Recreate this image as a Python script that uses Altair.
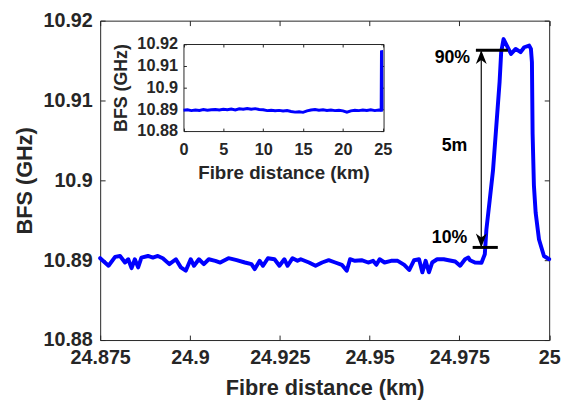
import altair as alt
import pandas as pd

# ---------------- data ----------------
dist_km = [24.87500, 24.87733, 24.87916, 24.88053, 24.88191, 24.88282, 24.88374, 24.88465,
           24.88557, 24.88648, 24.88831, 24.88968, 24.89105, 24.89243, 24.89426, 24.89608,
           24.89746, 24.89883, 24.90020, 24.90112, 24.90249, 24.90386, 24.90523, 24.90706,
           24.90843, 24.91072, 24.91300, 24.91529, 24.91712, 24.91804, 24.91941, 24.92033,
           24.92170, 24.92353, 24.92490, 24.92627, 24.92718, 24.92856, 24.92993, 24.93085,
           24.93313, 24.93496, 24.93679, 24.93862, 24.94045, 24.94228, 24.94365, 24.94457,
           24.94594, 24.94777, 24.94960, 24.95097, 24.95189, 24.95280, 24.95417, 24.95600,
           24.95783, 24.95966, 24.96103, 24.96240, 24.96378, 24.96469, 24.96561, 24.96652,
           24.96743, 24.96881, 24.97064, 24.97201, 24.97384, 24.97521, 24.97658, 24.97750,
           24.97796, 24.97933, 24.98116, 24.98208, 24.98252, 24.98345, 24.98436, 24.98518,
           24.98620, 24.98664, 24.98730, 24.98938, 24.99067, 24.99205, 24.99306, 24.99443,
           24.99492, 24.99520, 24.99539, 24.99575, 24.99624, 24.99717, 24.99855, 25.00000]
bfs_ghz = [10.89025, 10.88930, 10.89041, 10.89053, 10.88971, 10.89012, 10.88901, 10.89012,
           10.88910, 10.89033, 10.89053, 10.89033, 10.89053, 10.89025, 10.88951, 10.89012,
           10.88910, 10.88868, 10.89012, 10.88930, 10.89012, 10.88951, 10.89012, 10.88992,
           10.88971, 10.89025, 10.89000, 10.88971, 10.88951, 10.88889, 10.88992, 10.88930,
           10.89025, 10.89012, 10.88930, 10.89012, 10.88930, 10.89025, 10.88992, 10.89012,
           10.88971, 10.88930, 10.88971, 10.89000, 10.88971, 10.88942, 10.88868, 10.89012,
           10.88992, 10.89000, 10.88971, 10.88992, 10.88942, 10.89012, 10.88971, 10.88992,
           10.88992, 10.88942, 10.88877, 10.89000, 10.89012, 10.88848, 10.88992, 10.88848,
           10.88971, 10.89012, 10.89012, 10.89000, 10.88984, 10.88930, 10.89012, 10.89033,
           10.89000, 10.88971, 10.88967, 10.89074, 10.89383, 10.89753, 10.90123, 10.90617,
           10.91235, 10.91605, 10.91769, 10.91584, 10.91646, 10.91605, 10.91667, 10.91688,
           10.91646, 10.91481, 10.90580, 10.89938, 10.89593, 10.89259, 10.89053, 10.89012]

inset_km = [0, 0.5, 1, 1.5, 2, 2.5, 3, 3.5, 4, 4.5, 5, 5.5, 6, 6.5, 7, 7.5, 8, 8.5, 9, 9.5,
            10, 10.5, 11, 11.5, 12, 12.5, 13, 13.5, 14, 14.5, 15, 15.5, 16, 16.5, 17, 17.5,
            18, 18.5, 19, 19.5, 20, 20.5, 21, 21.5, 22, 22.5, 23, 23.5, 24, 24.5, 24.8,
            24.84, 24.86, 24.9, 25.0]
inset_ghz = [10.8896, 10.8898, 10.8894, 10.8897, 10.8895, 10.8899, 10.8896, 10.8898,
             10.8899, 10.8897, 10.8900, 10.8898, 10.8901, 10.8897, 10.8902, 10.8900,
             10.8904, 10.8900, 10.8903, 10.8899, 10.8898, 10.8894, 10.8896, 10.8893,
             10.8895, 10.8892, 10.8894, 10.8890, 10.8887, 10.8889, 10.8886, 10.8893,
             10.8897, 10.8899, 10.8896, 10.8898, 10.8895, 10.8897, 10.8894, 10.8896,
             10.8893, 10.8887, 10.8893, 10.8896, 10.8894, 10.8897, 10.8895, 10.8898,
             10.8894, 10.8897, 10.8896, 10.9170, 10.9168, 10.8897, 10.8898]

x_ticks = [24.875, 24.9, 24.925, 24.95, 24.975, 25.0]
y_ticks = [10.88, 10.89, 10.90, 10.91, 10.92]
inset_x_ticks = [0, 5, 10, 15, 20, 25]
inset_y_ticks = [10.88, 10.89, 10.90, 10.91, 10.92]

level_ghz = [10.9163, 10.8916]
level_x1 = [24.9796, 24.9787]
level_x2 = [24.9885, 24.9857]
arrow_km = 24.9811
label_text = ["90%", "5m", "10%"]
label_km = [24.9780, 24.9772, 24.9772]
label_ghz = [10.9153, 10.9043, 10.8928]

# ---------------- layout / style ----------------
W, H = 455.5, 324
IL, IR, IT, IB = 84.5, 287.5, 23.7, 112.0
FONT = "Liberation Sans"
INK = "#262626"
BLUE = "#0000FF"
UP = "M0,0L-0.55,1.4L0,1L0.55,1.4Z"
DOWN = "M0,0L-0.55,-1.4L0,-1L0.55,-1.4Z"

main_df = pd.DataFrame({"km": dist_km, "ghz": bfs_ghz})
inset_df = pd.DataFrame({"km": inset_km, "ghz": inset_ghz})
level_df = pd.DataFrame({"ghz": level_ghz, "x1": level_x1, "x2": level_x2})
span_df = pd.DataFrame({"km": [arrow_km], "g1": [level_ghz[1]], "g2": [level_ghz[0]]})
head_df = pd.DataFrame({"km": [arrow_km, arrow_km], "ghz": level_ghz, "head": [UP, DOWN]})
label_df = pd.DataFrame({"t": label_text, "km": label_km, "ghz": label_ghz})

XS = alt.Scale(domain=[24.875, 25.0], nice=False, zero=False)
YS = alt.Scale(domain=[10.88, 10.92], nice=False, zero=False)
IXS = alt.Scale(domain=[0, 25.1], range=[IL, IR], nice=False, zero=False)
IYS = alt.Scale(domain=[10.88, 10.92], range=[IB, IT], nice=False, zero=False)


def tick_axis(orient, offset, values, size, domain=False):
    return alt.Axis(orient=orient, offset=offset, values=values, labels=False,
                    domain=domain, domainColor=INK, domainWidth=1,
                    ticks=True, tickSize=size, tickColor=INK, tickWidth=1,
                    grid=False, title=None)


lab = dict(labelFont=FONT, labelFontWeight="bold", labelColor=INK,
           labelFlush=False, labelOverlap=False, format=".6~g", grid=False)
ttl = dict(titleFont=FONT, titleFontWeight="bold", titleColor=INK)

# ---------------- main panel ----------------
main_line = alt.Chart(main_df).mark_line(
    color=BLUE, strokeWidth=4, strokeJoin="round", strokeCap="round"
).encode(
    x=alt.X("km:Q", scale=XS, axis=alt.Axis(
        orient="bottom", values=x_ticks, ticks=False, domain=False,
        labelFontSize=20, labelPadding=8, title="Fibre distance (km)",
        titleFontSize=22, titleX=W / 2, titleY=55, titleAlign="center",
        titleBaseline="alphabetic", **lab, **ttl)),
    y=alt.Y("ghz:Q", scale=YS, axis=alt.Axis(
        orient="left", values=y_ticks, ticks=False, domain=False,
        labelFontSize=20, labelPadding=8, title="BFS (GHz)",
        titleFontSize=22, titleX=-77, titleY=H / 2, titleAngle=270,
        titleAlign="center", titleBaseline="middle", **lab, **ttl)),
)

ghost_a = alt.Chart(main_df).mark_line(opacity=0).encode(
    x=alt.X("km:Q", scale=XS, axis=tick_axis("top", -H, x_ticks, 5)),
    y=alt.Y("ghz:Q", scale=YS, axis=tick_axis("right", -W, y_ticks, 5)),
)
ghost_b = alt.Chart(main_df).mark_line(opacity=0).encode(
    x=alt.X("km:Q", scale=XS, axis=tick_axis("bottom", -H, x_ticks, 5)),
    y=alt.Y("ghz:Q", scale=YS, axis=tick_axis("left", -W, y_ticks, 5)),
)

levels = alt.Chart(level_df).mark_rule(color="black", strokeWidth=3).encode(
    x=alt.X("x1:Q", scale=XS, axis=None), x2="x2:Q",
    y=alt.Y("ghz:Q", scale=YS, axis=None),
)
span = alt.Chart(span_df).mark_rule(color="#1a1a1a", strokeWidth=1.3).encode(
    x=alt.X("km:Q", scale=XS, axis=None),
    y=alt.Y("g1:Q", scale=YS, axis=None), y2="g2:Q",
)
heads = alt.Chart(head_df).mark_point(
    filled=True, color="black", size=400, opacity=1, strokeWidth=0
).encode(
    x=alt.X("km:Q", scale=XS, axis=None),
    y=alt.Y("ghz:Q", scale=YS, axis=None),
    shape=alt.Shape("head:N", scale=None, legend=None),
)
labels = alt.Chart(label_df).mark_text(
    align="right", baseline="middle", font=FONT, fontSize=18,
    fontWeight="bold", color="black"
).encode(
    x=alt.X("km:Q", scale=XS, axis=None),
    y=alt.Y("ghz:Q", scale=YS, axis=None),
    text="t:N",
)

main_layer = alt.layer(main_line, ghost_a, ghost_b, levels, span, heads, labels).resolve_axis(
    x="independent", y="independent")

# ---------------- inset ----------------
inset_line = alt.Chart(inset_df).mark_line(color=BLUE, strokeWidth=3).encode(
    x=alt.X("km:Q", scale=IXS, axis=alt.Axis(
        orient="bottom", offset=IB - H, values=inset_x_ticks, ticks=False,
        domain=True, domainColor=INK, domainWidth=1,
        labelFontSize=16.5, labelPadding=10.5, title="Fibre distance (km)",
        titleFontSize=19, titleX=(IL + IR) / 2, titleY=48.6, titleAlign="center",
        titleBaseline="alphabetic", **lab, **ttl)),
    y=alt.Y("ghz:Q", scale=IYS, axis=alt.Axis(
        orient="left", offset=-IL, values=inset_y_ticks, ticks=False,
        domain=True, domainColor=INK, domainWidth=1,
        labelFontSize=16.5, labelPadding=6, title="BFS (GHz)",
        titleFontSize=18, titleX=-62.7, titleY=(IT + IB) / 2, titleAngle=270,
        titleAlign="center", titleBaseline="middle", **lab, **ttl)),
)
ighost_a = alt.Chart(inset_df).mark_line(opacity=0).encode(
    x=alt.X("km:Q", scale=IXS, axis=tick_axis("top", -IB, inset_x_ticks, 3)),
    y=alt.Y("ghz:Q", scale=IYS, axis=tick_axis("right", IL - W, inset_y_ticks, 3)),
)
ighost_b = alt.Chart(inset_df).mark_line(opacity=0).encode(
    x=alt.X("km:Q", scale=IXS, axis=tick_axis("bottom", IT - H, inset_x_ticks, 3, True)),
    y=alt.Y("ghz:Q", scale=IYS, axis=tick_axis("left", -IR, inset_y_ticks, 3, True)),
)
inset_layer = alt.layer(inset_line, ighost_a, ighost_b).resolve_axis(
    x="independent", y="independent")

chart = alt.layer(main_layer, inset_layer).resolve_scale(
    x="independent", y="independent"
).properties(
    width=W, height=H,
    padding={"left": 93.5, "top": 10, "right": 12, "bottom": 59},
    autosize=alt.AutoSizeParams(type="none"),
    background="white",
).configure_view(stroke=INK, strokeWidth=1)

chart.save("out.html", embed_options={"renderer": "svg", "actions": False})
